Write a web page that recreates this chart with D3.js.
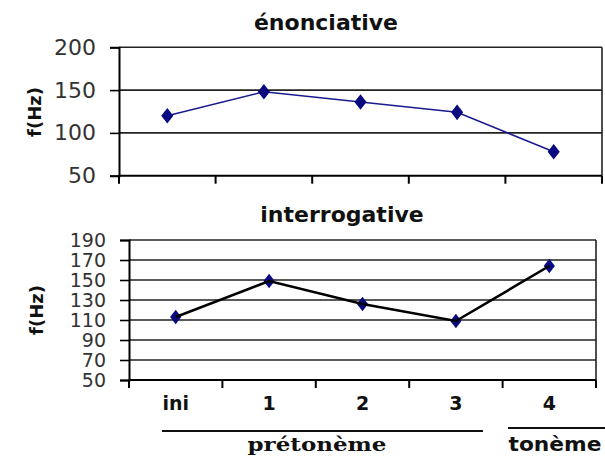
<!DOCTYPE html>
<html><head><meta charset="utf-8">
<script src="https://cdn.jsdelivr.net/npm/d3@7"></script>
<style>body{margin:0;background:#fff}svg{display:block}</style>
</head><body>
<svg id="c" width="605" height="457"></svg>
<script>
const categories = ["ini", "1", "2", "3", "4"];
const enonciative = [120, 148, 136, 124, 78];
const interrogative = [113, 149, 126, 109, 164];
const ticksTop = [50, 100, 150, 200];
const ticksBottom = [50, 70, 90, 110, 130, 150, 170, 190];
const titles = ["énonciative", "interrogative"];
const yLabel = "f(Hz)";
const groups = [{label: "prétonème", from: 0, to: 3}, {label: "tonème", from: 4, to: 4}];

const svg = d3.select("#c");
const navy = "#0a0a80";

function panel(cfg) {
  const x = d3.scaleBand().domain(categories).range([cfg.left, cfg.right]);
  const y = d3.scaleLinear().domain(cfg.domain).range([cfg.bottom, cfg.top]);
  const g = svg.append("g");
  g.selectAll("line.grid").data(cfg.ticks.slice(1)).join("line")
    .attr("x1", cfg.left).attr("x2", cfg.right)
    .attr("y1", d => y(d)).attr("y2", d => y(d))
    .attr("stroke", "#222").attr("stroke-width", 1.6);
  g.append("line").attr("x1", cfg.right).attr("x2", cfg.right)
    .attr("y1", cfg.top).attr("y2", cfg.bottom).attr("stroke", "#222").attr("stroke-width", 1.6);
  const ya = g.append("g").attr("transform", `translate(${cfg.left},0)`)
    .call(d3.axisLeft(y).tickValues(cfg.ticks).tickSize(9).tickPadding(cfg.pad));
  ya.select(".domain").attr("stroke", "#000").attr("stroke-width", 2);
  ya.selectAll(".tick line").attr("stroke", "#000").attr("stroke-width", 1.6);
  ya.selectAll(".tick text").attr("font-family", "DejaVu Sans").attr("font-size", cfg.tickFont)
    .attr("fill", "#333");
  const boundaries = categories.map(c => x(c)).concat([cfg.right]);
  g.append("line").attr("x1", cfg.left).attr("x2", cfg.right)
    .attr("y1", cfg.bottom).attr("y2", cfg.bottom).attr("stroke", "#000").attr("stroke-width", 2);
  g.selectAll("line.xt").data(boundaries).join("line")
    .attr("x1", d => d).attr("x2", d => d)
    .attr("y1", cfg.bottom).attr("y2", cfg.bottom + 8)
    .attr("stroke", "#000").attr("stroke-width", 2);
  g.append("text").attr("x", cfg.titleX).attr("y", cfg.titleY).attr("text-anchor", "middle")
    .attr("font-family", "DejaVu Sans").attr("font-weight", "bold").attr("font-size", 22)
    .attr("fill", "#111").text(cfg.title);
  g.append("text").attr("transform", `translate(${cfg.ylx},${cfg.yly}) rotate(-90)`)
    .attr("text-anchor", "middle").attr("dominant-baseline", "central")
    .attr("font-family", "DejaVu Sans").attr("font-weight", "bold").attr("font-size", 18)
    .attr("fill", "#111").text(yLabel);
  const cx = c => x(c) + x.bandwidth() / 2;
  const line = d3.line().x((d, i) => cx(categories[i])).y(d => y(d));
  const sym = d3.symbol().type(d3.symbolDiamond).size(cfg.markSize);
  const marks = () => g.selectAll("path.m").data(cfg.values).join("path").attr("class", "m")
      .attr("transform", (d, i) => `translate(${cx(categories[i])},${y(d)}) scale(1.35,1)`)
      .attr("d", sym).attr("fill", navy);
  if (cfg.markFirst) marks();
  g.append("path").datum(cfg.values).attr("d", line).attr("fill", "none")
    .attr("stroke", cfg.lineColor).attr("stroke-width", cfg.lineWidth);
  if (!cfg.markFirst) marks();
  return {x, y, g};
}

panel({left: 119, right: 602, top: 47.3, bottom: 175.7, domain: [50, 200], ticks: ticksTop,
  values: enonciative, title: titles[0], titleX: 326, titleY: 30, ylx: 34, yly: 112,
  tickFont: 22, pad: 14, lineColor: "#1a1a90", lineWidth: 1.5, markSize: 70, markFirst: false});

const bot = panel({left: 129, right: 596, top: 240, bottom: 380, domain: [50, 190], ticks: ticksBottom,
  values: interrogative, title: titles[1], titleX: 342, titleY: 222, ylx: 36, yly: 310,
  tickFont: 19, pad: 14, lineColor: "#000", lineWidth: 2.6, markSize: 60, markFirst: true});

bot.g.selectAll("text.cat").data(categories).join("text")
  .attr("x", d => bot.x(d) + bot.x.bandwidth() / 2).attr("y", 410)
  .attr("text-anchor", "middle").attr("font-family", "DejaVu Sans").attr("font-weight", "bold")
  .attr("font-size", 19).attr("fill", "#111").text(d => d);

const gx = [{x1: 162, x2: 483, y: 431, tx: 317, tw: 139, font: "DejaVu Serif"},
            {x1: 508, x2: 605, y: 428, tx: 555, tw: 93, font: "DejaVu Sans"}];
groups.forEach((gr, i) => {
  const p = gx[i];
  svg.append("line").attr("x1", p.x1).attr("x2", p.x2).attr("y1", p.y).attr("y2", p.y)
    .attr("stroke", "#111").attr("stroke-width", 1.8);
  svg.append("text").attr("x", p.tx).attr("y", 451).attr("text-anchor", "middle")
    .attr("font-family", p.font).attr("font-weight", "bold").attr("font-size", 19)
    .attr("textLength", p.tw).attr("lengthAdjust", "spacingAndGlyphs")
    .attr("fill", "#111").text(gr.label);
});
</script>
</body></html>
